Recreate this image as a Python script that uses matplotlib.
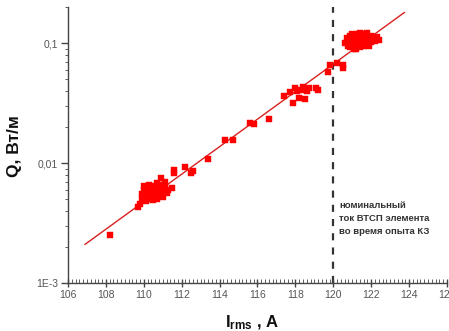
import matplotlib
matplotlib.use("Agg")
import matplotlib.pyplot as plt
from matplotlib.ticker import FixedLocator, MultipleLocator, LogLocator, NullFormatter

plt.rcParams['font.family'] = ['Liberation Sans', 'DejaVu Sans']
plt.rcParams['mathtext.fontset'] = 'custom'
plt.rcParams['mathtext.rm'] = 'Liberation Sans:bold'
plt.rcParams['mathtext.bf'] = 'Liberation Sans:bold'
plt.rcParams['mathtext.it'] = 'Liberation Sans:bold'

# measured points: current (A) and losses (W/m)
current = [108.2, 109.7, 109.8, 109.9, 109.9, 110.0, 110.0, 110.0, 110.1, 110.1,
           110.2, 110.2, 110.3, 110.3, 110.3, 110.4, 110.4, 110.5, 110.5, 110.5,
           110.6, 110.6, 110.7, 110.7, 110.7, 110.8, 110.8, 110.9, 110.9, 110.9,
           111.0, 111.0, 111.1, 111.1, 111.2, 111.3, 111.5, 111.6, 111.6, 112.2,
           112.5, 112.6,
           113.4, 114.3, 114.7, 115.6, 115.8, 116.6, 117.4, 117.7, 117.85, 118.0,
           118.1, 118.2, 118.3, 118.4, 118.5, 118.6, 118.7, 119.1, 119.2, 119.7,
           119.8, 120.2, 120.5, 120.5,
           120.6, 120.7, 120.8, 120.8, 120.9, 121.0, 121.0, 121.1, 121.1, 121.2,
           121.2, 121.3, 121.3, 121.4, 121.4, 121.5, 121.5, 121.6, 121.6, 121.7,
           121.7, 121.8, 121.8, 121.9, 121.9, 122.0, 122.0, 122.1, 122.2, 122.3,
           122.4, 121.0, 121.4, 120.9]
losses = [0.0025, 0.0043, 0.0046, 0.0050, 0.0055, 0.0052, 0.0060, 0.0064, 0.0048, 0.0057,
          0.0053, 0.0062, 0.0050, 0.0058, 0.0066, 0.0054, 0.0061, 0.0049, 0.0056, 0.0064,
          0.0052, 0.0059, 0.0055, 0.0068, 0.0050, 0.0062, 0.0057, 0.0053, 0.0075, 0.0065,
          0.0058, 0.0052, 0.0063, 0.0070, 0.0056, 0.0060, 0.0062, 0.0083, 0.0088, 0.0093,
          0.0083, 0.0086,
          0.0108, 0.0155, 0.0155, 0.0215, 0.0210, 0.0235, 0.0365, 0.0390, 0.0316, 0.0420,
          0.0395, 0.0350, 0.0410, 0.0430, 0.0345, 0.0400, 0.0420, 0.0420, 0.0405, 0.0570,
          0.0660, 0.0680, 0.0620, 0.0660,
          0.100, 0.110, 0.095, 0.105, 0.115, 0.098, 0.108, 0.090, 0.102, 0.089,
          0.112, 0.097, 0.118, 0.104, 0.093, 0.110, 0.100, 0.120, 0.095, 0.106,
          0.113, 0.099, 0.122, 0.108, 0.094, 0.115, 0.102, 0.110, 0.104, 0.112,
          0.106, 0.120, 0.122, 0.092]

# fitted line endpoints
fit_current = [106.9, 123.75]
fit_losses = [0.0021, 0.18]

nominal_current = 120
xticks = [106, 108, 110, 112, 114, 116, 118, 120, 122, 124, 126]
yticks = [0.001, 0.01, 0.1]
ytick_labels = ['1E-3', '0,01', '0,1']
note = "номинальный\nток ВТСП элемента\nво время опыта КЗ"

fig = plt.figure(figsize=(4.49, 3.31), dpi=100)
ax = fig.add_axes([68/449, 48/331, (447-68)/449, (283-7)/331])

ax.plot(fit_current, fit_losses, color='#d82020', lw=1.0, zorder=2)
ax.plot(current, losses, 's', color='#ff0000', ms=3.8, mec='#ff0000', mew=0.3, zorder=3)
ax.axvline(nominal_current, color='#333333', lw=1.6, dashes=(3.2, 3.2), zorder=1)

ax.set_yscale('log')
ax.set_xlim(106, 126)
ax.set_ylim(0.001, 0.2)

for s in ['top', 'right']:
    ax.spines[s].set_visible(False)
for s in ['left', 'bottom']:
    ax.spines[s].set_color('#444444')
    ax.spines[s].set_linewidth(1.0)

ax.xaxis.set_major_locator(FixedLocator(xticks))
ax.xaxis.set_minor_locator(MultipleLocator(0.2))
ax.set_xticklabels([str(t) for t in xticks])
ax.yaxis.set_major_locator(FixedLocator(yticks))
ax.set_yticklabels(ytick_labels)
ax.yaxis.set_minor_locator(LogLocator(base=10, subs=range(2, 10)))
ax.yaxis.set_minor_formatter(NullFormatter())

ax.tick_params(axis='x', which='major', direction='inout', length=6, width=1.0,
               color='#444444', labelsize=7.5, labelcolor='#555555', pad=2)
ax.tick_params(axis='x', which='minor', direction='in', length=3, width=0.6,
               color='#444444')
ax.tick_params(axis='y', which='major', direction='out', length=5, width=1.0,
               color='#444444', labelsize=7.5, labelcolor='#555555', pad=2)
ax.tick_params(axis='y', which='minor', direction='out', length=2.5, width=0.6,
               color='#444444')

ax.text(120.3, 0.0048, note, fontsize=6.8, fontweight='bold', color='#333333',
        va='top', ha='left', linespacing=1.55)

fig.text(225/449, 1 - 327/331, r'$\mathbf{I_{rms}}$ , A', fontsize=12, fontweight='bold',
         ha='left', va='baseline', color='#111111')
fig.text(14/449, 1 - 146/331, 'Q, Вт/м', fontsize=12.5, fontweight='bold', rotation=90,
         ha='center', va='center', color='#111111')

fig.savefig('out.png', dpi=100)
